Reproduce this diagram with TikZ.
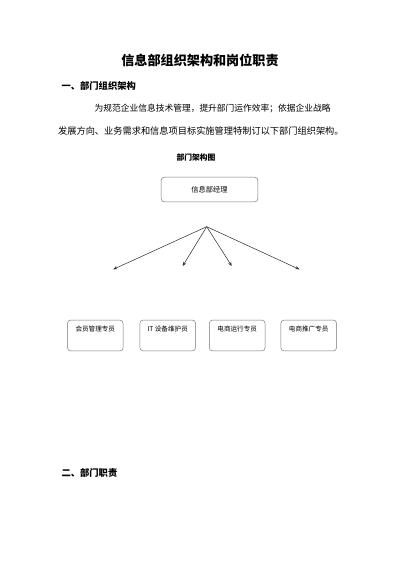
\documentclass[tikz,border=0pt]{standalone}
\usepackage{fontspec}
\setmainfont{Noto Sans CJK SC}
\usetikzlibrary{arrows.meta}
\begin{document}
\begin{tikzpicture}[x=1.4875pt, y=-1.4875pt, every node/.style={inner sep=0pt}, title/.style={font=\fontsize{19.5pt}{22pt}\selectfont\bfseries}, heading/.style={anchor=west, font=\fontsize{13.8pt}{16pt}\selectfont\bfseries}, body/.style={anchor=west, font=\fontsize{13pt}{15pt}\selectfont}, chart title/.style={font=\fontsize{11.6pt}{13pt}\selectfont\bfseries}, boss/.style={draw=black!55, rounded corners=5pt, line width=0.7pt, minimum width=144pt, minimum height=37pt, font=\fontsize{10.8pt}{12pt}\selectfont}, post/.style={draw=black!55, rounded corners=5pt, line width=0.7pt, minimum width=83pt, minimum height=46pt, text height=8pt, text depth=19pt, font=\fontsize{9.8pt}{11pt}\selectfont}, link/.style={-{Stealth[length=6pt, width=5pt]}, draw=black!80, line width=0.8pt}]
  \useasboundingbox (0,0) rectangle (400,566);
  % text above the chart
  \node [title] (title) at (200,60.5) {信息部组织架构和岗位职责};
  \node [heading] (sec1) at (61.5,85.5) {一、部门组织架构};
  \node [body] (par1) at (94.5,108.5) {为规范企业信息技术管理，提升部门运作效率；依据企业战略};
  \node [body, font=\fontsize{13.7pt}{15pt}\selectfont] (par2) at (58,131) {发展方向、业务需求和信息项目标实施管理特制订以下部门组织架构。};
  \node [chart title] (charttitle) at (196,157.5) {部门架构图};
  % chart
  \node [boss] (manager) at (209.5,189.5) {信息部经理};
  \coordinate (hub) at (206.7,226.7);
  \coordinate (end1) at (113.3,269.3);
  \coordinate (end2) at (182.7,266);
  \coordinate (end3) at (231.7,266);
  \coordinate (end4) at (299.3,269.3);
  \foreach \e in {1,...,4}
    \draw [link] (hub) -- (end\e);
  \node [post] (member) at (95.3,335.5) {会员管理专员};
  \node [post] (itcare) at (167.7,335.5) {IT 设备维护员};
  \node [post] (shopops) at (237.2,335.5) {电商运行专员};
  \node [post] (shoppromo) at (308.7,335.5) {电商推广专员};
  % next section
  \node [heading] (sec2) at (61.5,472.5) {二、部门职责};
\end{tikzpicture}
\end{document}
